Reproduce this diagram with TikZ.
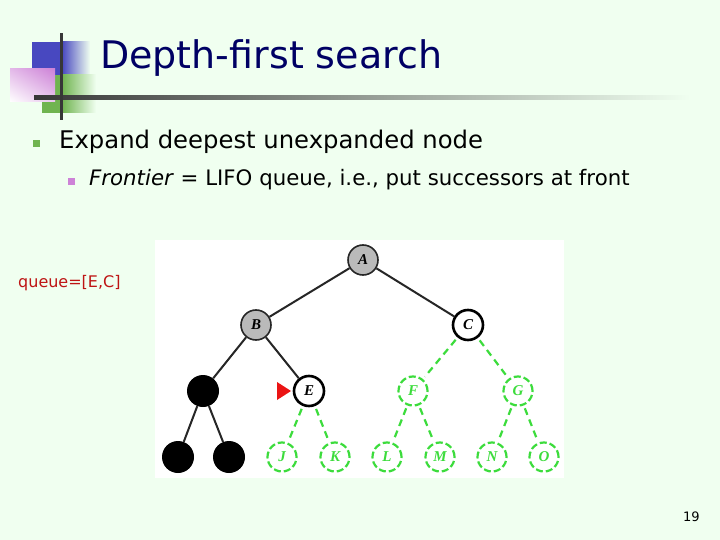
\documentclass[tikz,border=0pt]{standalone}
\usepackage{fontspec}
\setmainfont{DejaVu Sans}
\newfontfamily\lblfont{Liberation Serif}
\usetikzlibrary{positioning,shadings}

\definecolor{slidebg}{RGB}{240,255,240}
\definecolor{titleblue}{RGB}{0,0,100}
\definecolor{sqblue}{RGB}{72,72,192}
\definecolor{sqgreen}{RGB}{112,180,80}
\definecolor{sqpink}{RGB}{205,130,215}
\definecolor{bargray}{RGB}{55,55,55}
\definecolor{queuered}{RGB}{190,20,20}
\definecolor{markred}{RGB}{235,20,20}
\definecolor{fringegreen}{RGB}{60,220,60}

\begin{document}
\begin{tikzpicture}[x=1pt, y=-1pt,
    node distance=65pt and 106pt, on grid,
    txt/.style={inner sep=0pt, anchor=base west},
    lbl/.style={font=\lblfont\itshape\bfseries\fontsize{15}{15}\selectfont},
    expnode/.style={circle, draw=black!85, fill=black!27, line width=1.6pt, minimum size=30pt, inner sep=0pt, lbl},
    curnode/.style={circle, draw=black, fill=white, line width=2.6pt, minimum size=30pt, inner sep=0pt, lbl},
    deadnode/.style={circle, fill=black, minimum size=32pt, inner sep=0pt},
    fringenode/.style={circle, draw=fringegreen, dash pattern=on 7pt off 3pt, line width=2.2pt, text=fringegreen, minimum size=29pt, inner sep=0pt, lbl},
    treeline/.style={draw=black!85, line width=2pt},
    fringeline/.style={draw=fringegreen, line width=2.2pt, dash pattern=on 7pt off 5pt, shorten <=3pt, shorten >=3pt}
  ]
  % slide background
  \fill[slidebg] (0,0) rectangle (720,540);

  % logo squares and bars
  \fill[sqblue] (32,42) rectangle (62,75);
  \shade[left color=sqblue, right color=slidebg] (62,42) rectangle (90,75);
  \fill[sqgreen] (42,75) rectangle (62,113);
  \shade[left color=sqgreen, right color=slidebg] (62,75) rectangle (96,113);
  \shade[upper right=sqpink, upper left=sqpink!55!white, lower right=sqpink!45!white, lower left=white] (10,69) rectangle (55,102);
  \shade[left color=bargray, middle color=bargray!55!slidebg, right color=slidebg] (34,95.5) rectangle (690,99.5);
  \fill[bargray] (59.5,33) rectangle (62.5,120);

  % title and bullets
  \node[txt, text=titleblue, font=\fontsize{38}{38}\selectfont] (title) at (100,69) {Depth-first search};
  \fill[sqgreen] (33,140) rectangle (40,147);
  \node[txt, font=\fontsize{24.3}{24}\selectfont] (point1) at (59,149) {Expand deepest unexpanded node};
  \fill[sqpink] (68,178) rectangle (75,185);
  \node[txt, font=\fontsize{21.3}{21}\selectfont] (point2) at (89,186) {\textit{Frontier} = LIFO queue, i.e., put successors at front};
  \node[txt, text=queuered, font=\fontsize{16}{16}\selectfont] (queue) at (18,287) {queue=[E,C]};
  \node[txt, font=\fontsize{13}{13}\selectfont] (pageno) at (683,521) {19};

  % tree panel
  \fill[white] (155,240) rectangle (564,478);

  \node[expnode] (A) at (363,260) {A};
  \node[expnode, below left=65pt and 107pt of A] (B) {B};
  \node[curnode, below right=65pt and 105pt of A] (C) {C};
  \node[deadnode, below left=66pt and 53pt of B] (D) {};
  \node[curnode, below right=66pt and 53pt of B] (E) {E};
  \node[fringenode, below left=66pt and 55pt of C] (F) {F};
  \node[fringenode, below right=66pt and 50pt of C] (G) {G};
  \node[deadnode, below left=66pt and 25pt of D] (H) {};
  \node[deadnode, below right=66pt and 26pt of D] (I) {};
  \node[fringenode, below left=66pt and 27pt of E] (J) {J};
  \node[fringenode, below right=66pt and 26pt of E] (K) {K};
  \node[fringenode, below left=66pt and 26pt of F] (L) {L};
  \node[fringenode, below right=66pt and 27pt of F] (M) {M};
  \node[fringenode, below left=66pt and 26pt of G] (N) {N};
  \node[fringenode, below right=66pt and 26pt of G] (O) {O};

  \draw[treeline] (A) -- (B);
  \draw[treeline] (A) -- (C);
  \draw[treeline] (B) -- (D);
  \draw[treeline] (B) -- (E);
  \draw[treeline] (D) -- (H);
  \draw[treeline] (D) -- (I);
  \foreach \from/\to in {C/F, C/G, E/J, E/K, F/L, F/M, G/N, G/O}
    \draw[fringeline] (\from) -- (\to);

  % current node marker
  \fill[markred] (277,382) -- (291,391) -- (277,400) -- cycle;
\end{tikzpicture}
\end{document}
